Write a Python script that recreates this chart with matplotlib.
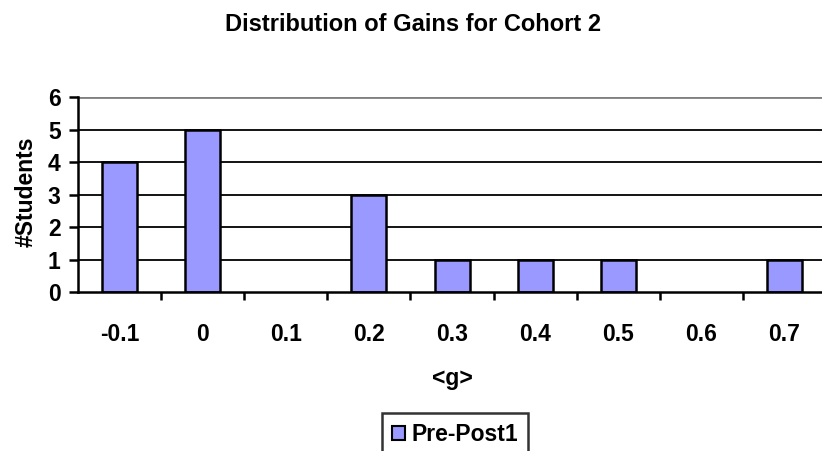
import matplotlib.pyplot as plt

# Data
gain_labels = ['-0.1', '0', '0.1', '0.2', '0.3', '0.4', '0.5', '0.6', '0.7']
student_counts = [4, 5, 0, 3, 1, 1, 1, 0, 1]
y_ticks = [0, 1, 2, 3, 4, 5, 6]

BAR_COLOR = '#9999ff'
FONT_SIZE = 16.5

plt.rcParams['font.family'] = ['Liberation Sans', 'DejaVu Sans']
plt.rcParams['font.weight'] = 'bold'

fig = plt.figure(figsize=(8.22, 4.51), dpi=100)
ax = fig.add_axes([0.0949, 0.3525, 0.9101, 0.4324])

positions = list(range(len(gain_labels)))
# empty bins get no outline, so the axis line stays even
edge_widths = [1.8 if count else 0 for count in student_counts]
ax.bar(positions, student_counts, width=0.42, color=BAR_COLOR,
       edgecolor='black', linewidth=edge_widths, zorder=3, label='Pre-Post1')

ax.set_xlim(-0.5, len(gain_labels) - 0.5)
ax.set_ylim(0, 6)

# gridlines (black) and the grey plot-area border at the top
for y in y_ticks[1:-1]:
    ax.axhline(y, color='black', linewidth=1.3, zorder=1)
ax.axhline(6, color='#808080', linewidth=2, zorder=1)

for side in ['top', 'right']:
    ax.spines[side].set_visible(False)
ax.spines['left'].set_linewidth(1.8)
ax.spines['bottom'].set_linewidth(1.8)
ax.spines['bottom'].set_zorder(4)

ax.set_yticks(y_ticks)
ax.set_yticklabels([str(v) for v in y_ticks], fontsize=FONT_SIZE,
                   fontweight='bold')
ax.tick_params(axis='y', length=6.5, width=1.8, pad=6)

ax.set_xticks(positions)
ax.set_xticklabels(gain_labels, fontsize=FONT_SIZE, fontweight='bold')
ax.tick_params(axis='x', which='major', length=0, pad=22)
ax.set_xticks([p + 0.5 for p in positions[:-1]], minor=True)
ax.tick_params(axis='x', which='minor', length=6, width=1.8)

ax.set_xlabel('<g>', fontsize=FONT_SIZE, fontweight='bold')
ax.xaxis.set_label_coords(0.5, -0.385)

fig.text(26 / 822, 1 - 192 / 451, '#Students', rotation=90, ha='center',
         va='center', fontsize=FONT_SIZE, fontweight='bold')

fig.text(413 / 822, 1 - 31 / 451, 'Distribution of Gains for Cohort 2',
         ha='center', va='baseline', fontsize=17, fontweight='bold')

leg = fig.legend(loc='upper center', bbox_to_anchor=(455 / 822, 1 - 413 / 451),
                 fontsize=FONT_SIZE, frameon=True, fancybox=False,
                 edgecolor='black', handlelength=0.56, handleheight=0.56,
                 handletextpad=0.3, borderpad=0.45, borderaxespad=0)
leg.get_frame().set_linewidth(1.8)
for patch in leg.get_patches():
    patch.set_linewidth(1.5)

fig.savefig('out.png', dpi=100)
